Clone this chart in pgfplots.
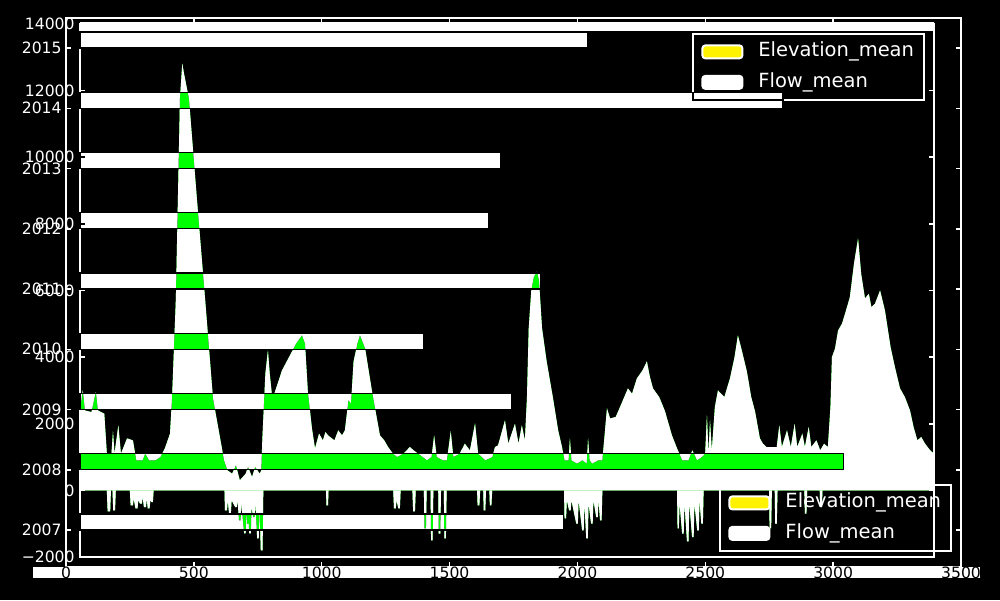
\documentclass[border=0pt]{standalone}
\usepackage{pgfplots}
\pgfplotsset{compat=1.18}
\usepackage{fontspec}
\setmainfont{DejaVu Sans}
\pgfplotstableread{
x y
55 2400
66 3000
74 2400
100 2350
117 2950
125 2400
150 2300
160 1100
178 1100
184 1770
190 1100
205 1950
215 1100
239 1560
262 1500
275 900
300 900
310 1100
325 900
350 900
370 1000
387 1260
407 1700
415 2760
430 5760
438 8760
442 10260
446 11760
455 12810
462 12500
481 11760
512 8760
544 5760
575 2760
610 1260
618 900
632 600
650 500
665 750
680 300
703 500
712 700
728 400
740 700
758 500
764 600
768 1500
780 3500
790 4200
797 3500
805 2910
815 2900
845 3600
876 4050
900 4400
923 4650
935 4400
946 2970
962 1860
974 1260
990 1700
1005 1500
1015 1750
1025 1650
1050 1500
1065 1800
1080 1650
1091 1800
1105 2700
1115 2600
1125 3870
1140 4400
1150 4650
1170 4260
1197 2970
1228 1650
1245 1500
1260 1300
1279 1100
1295 1000
1320 1100
1345 1300
1360 1200
1395 1000
1412 900
1430 1000
1440 1650
1450 1000
1475 900
1490 900
1505 1770
1515 1000
1540 1100
1560 1400
1580 1200
1600 2010
1612 1100
1640 900
1668 1000
1678 1300
1690 1350
1717 2100
1730 1400
1756 2000
1770 1400
1783 1950
1795 1500
1803 2760
1810 4860
1820 6000
1830 6400
1842 6570
1850 6300
1862 4860
1880 3870
1905 2760
1925 1800
1940 1300
1950 900
1966 900
1971 1560
1977 900
1999 800
2020 900
2037 800
2042 1560
2048 900
2058 800
2082 900
2098 900
2116 2460
2128 2160
2150 2200
2167 2500
2198 3060
2214 2900
2233 3360
2255 3600
2272 3870
2284 3400
2296 3060
2320 2800
2331 2600
2343 2370
2370 1650
2390 1260
2410 900
2435 900
2450 1200
2468 900
2488 1000
2500 1100
2507 2250
2513 1100
2519 2100
2526 1200
2538 2500
2550 3000
2575 2800
2597 3360
2615 4000
2628 4650
2640 4300
2663 3570
2680 2800
2695 2370
2714 1560
2726 1400
2740 1300
2760 1300
2780 1300
2790 1950
2800 1300
2820 1800
2835 1300
2850 2000
2860 1300
2880 1700
2890 1300
2905 1900
2915 1300
2935 1500
2950 1200
2965 1400
2980 1300
2990 2500
2996 4000
3008 4260
3020 4800
3035 5000
3047 5300
3066 5800
3082 6800
3098 7560
3110 6500
3125 5760
3140 5900
3150 5500
3164 5600
3184 6000
3203 5400
3225 4300
3242 3700
3262 3060
3281 2800
3301 2400
3315 1900
3330 1500
3345 1600
3360 1400
3380 1200
3395 1100
}\flowpos
\pgfplotstableread{
x y
55 0
160 0
163 -630
173 -630
176 0
182 0
185 -600
192 -600
195 0
250 0
253 -450
262 -450
265 -250
272 -540
280 -540
283 -300
290 -400
297 -400
300 -200
305 -500
313 -500
316 -250
320 -540
327 -540
330 -300
335 -350
340 -350
343 0
620 0
622 -600
630 -600
633 -300
638 -690
645 -690
648 -300
662 -500
668 -500
671 -300
677 -900
683 -900
686 -400
697 -1290
703 -1290
706 -600
709 -1000
715 -1000
717 -1290
723 -1290
726 -500
732 -800
738 -800
741 -400
748 -1440
754 -1440
757 -400
762 -1800
769 -1800
772 0
1017 0
1019 -450
1025 -450
1027 0
1280 0
1283 -540
1290 -540
1293 -300
1300 -540
1306 -540
1309 0
1355 0
1358 -630
1365 -630
1368 0
1400 0
1402 -1140
1408 -1140
1411 0
1426 0
1428 -1500
1434 -1500
1437 0
1456 0
1458 -1300
1464 -1300
1467 0
1478 0
1480 -1440
1486 -1440
1489 0
1608 0
1610 -450
1617 -450
1620 0
1632 0
1634 -600
1640 -600
1643 0
1656 0
1658 -450
1664 -450
1667 0
1948 0
1950 -840
1956 -840
1959 -300
1968 -600
1974 -600
1977 -300
1996 -1000
2002 -1000
2005 -300
2019 -1200
2025 -1200
2028 -400
2035 -1440
2041 -1440
2044 -400
2054 -1000
2060 -1000
2063 -300
2074 -800
2080 -800
2083 -300
2089 -900
2095 -900
2098 0
2390 0
2392 -1140
2397 -1140
2400 -400
2410 -1300
2416 -1300
2419 -400
2429 -1530
2435 -1530
2438 -400
2449 -1400
2455 -1400
2458 -400
2469 -1200
2475 -1200
2478 -300
2485 -1000
2491 -1000
2494 0
2750 0
2752 -1140
2758 -1140
2761 0
2772 0
2774 -1000
2780 -1000
2783 0
2888 0
2890 -700
2896 -700
2899 0
2948 0
2950 -500
2956 -500
2959 0
3395 0
}\flowneg
\pgfplotstableread{
year flow elev
2015 1983 0
2014 2749 0
2013 1643 0
2012 1596 0
2011 1799 0
2010 1345 0
2009 1686 0
2008 2984 0
2007 1889 0
}\bardata
\begin{document}
\begin{tikzpicture}
\fill[black] (0,0) rectangle (500pt,300pt);
% ---- axis 1: area (inner frame)
\begin{axis}[
  at={(40pt,21.5pt)}, anchor=south west, scale only axis,
  width=427pt, height=266.5pt,
  xmin=55, xmax=3395, ymin=-2000, ymax=14000, clip=false,
  scaled x ticks=false, scaled y ticks=false,
  axis line style={white, line width=1pt},
  xtick=\empty,
  ytick={-2000,0,2000,4000,6000,8000,10000,12000,14000},
  yticklabels={−2000,0,2000,4000,6000,8000,10000,12000,14000},
  ytick pos=both, yticklabel pos=left,
  tick align=inside, major tick length=2.5pt,
  tick style={white, line width=0.75pt},
  yticklabel style={text=white, font=\fontsize{7.8}{9}\selectfont, inner sep=0pt, xshift=-2.5pt},
  legend cell align=left,
  legend image code/.code={\draw[#1, line width=1pt, rounded corners=1.5pt] (0.5pt,-3.25pt) rectangle (20.5pt,3.25pt);},
  legend style={at={(0.9895,0.983)}, anchor=north east, fill=black, draw=white, line width=1pt,
    text=white, font=\fontsize{9.75}{11}\selectfont, inner xsep=4pt, inner ysep=2.9pt,
    row sep=3.25pt, nodes={inner sep=1pt, text depth=0.25em, text height=0.75em},
    /tikz/every odd column/.append style={column sep=6.5pt}},
]
\addplot[fill=white, draw=none, forget plot] table[x=x, y=y] {\flowpos} \closedcycle;
\addplot[fill=white, draw=none, forget plot] table[x=x, y=y] {\flowneg} \closedcycle;
\addlegendimage{fill=yellow, draw=white}
\addlegendentry{Elevation\_mean}
\addlegendimage{fill=white, draw=white}
\addlegendentry{Flow\_mean}
\fill[white] ([yshift=1pt]rel axis cs:0,1) rectangle ([yshift=-3.5pt]rel axis cs:1,1);
\end{axis}
% ---- axis 2: bars, difference blend
\begin{scope}[blend mode=difference]
\begin{axis}[
  at={(33pt,16.5pt)}, anchor=south west, scale only axis,
  width=447.5pt, height=274.5pt,
  xmin=-55, xmax=3445, ymin=2006.386, ymax=2015.498,
  hide axis, xbar, bar width=8pt,
]
\addplot[xbar, fill=white, draw=none, bar shift=4pt] table[x=flow, y=year] {\bardata};
\end{axis}
\end{scope}
% ---- axis 3: area again, lighten blend (overlap turns green)
\begin{scope}[blend mode=lighten]
\begin{axis}[
  at={(40pt,21.5pt)}, anchor=south west, scale only axis,
  width=427pt, height=266.5pt,
  xmin=55, xmax=3395, ymin=-2000, ymax=14000, hide axis,
]
\addplot[fill=green, draw=none] table[x=x, y=y] {\flowpos} \closedcycle;
\addplot[fill=green, draw=none] table[x=x, y=y] {\flowneg} \closedcycle;
\end{axis}
\end{scope}
\fill[white] (16.5pt,11pt) rectangle (490pt,16.5pt);
% ---- axis 4: outer frame, bar outlines, labels, legend
\begin{axis}[
  at={(33pt,16.5pt)}, anchor=south west, scale only axis,
  width=447.5pt, height=274.5pt,
  xmin=-55, xmax=3445, ymin=2006.386, ymax=2015.498,
  scaled x ticks=false, scaled y ticks=false,
  xbar, bar width=8pt,
  axis line style={white, line width=1pt},
  xtick={-55,445,945,1445,1945,2445,2945,3445},
  xticklabels={0,500,1000,1500,2000,2500,3000,3500},
  ytick={2007,2008,2009,2010,2011,2012,2013,2014,2015},
  yticklabels={2007,2008,2009,2010,2011,2012,2013,2014,2015},
  tick pos=both, xticklabel pos=bottom, yticklabel pos=left,
  tick align=inside, major tick length=2.5pt,
  tick style={white, line width=0.75pt},
  xticklabel style={text=black, font=\fontsize{7.8}{9}\selectfont, inner sep=0pt, anchor=north},
  yticklabel style={text=white, font=\fontsize{7.8}{9}\selectfont, inner sep=0pt, xshift=-2pt},
  legend cell align=left,
  legend image code/.code={\draw[#1, line width=1pt, rounded corners=1.5pt] (0.5pt,-3.25pt) rectangle (20.5pt,3.25pt);},
  legend style={at={(0.990,0.027)}, anchor=south east, fill=none, draw=white, line width=1pt,
    text=white, font=\fontsize{9.75}{11}\selectfont, inner xsep=4pt, inner ysep=2.9pt,
    row sep=3.25pt, nodes={inner sep=1pt, text depth=0.25em, text height=0.75em},
    /tikz/every odd column/.append style={column sep=6.5pt}},
]
\addplot[xbar, fill=none, draw=black, line width=0.6pt, bar shift=4pt, forget plot] table[x=flow, y=year] {\bardata};
\addlegendimage{fill=yellow, draw=white}
\addlegendentry{Elevation\_mean}
\addlegendimage{fill=white, draw=white}
\addlegendentry{Flow\_mean}
\end{axis}
\pgfresetboundingbox
\path[use as bounding box] (0,0) rectangle (500pt,300pt);
\end{tikzpicture}
\end{document}
